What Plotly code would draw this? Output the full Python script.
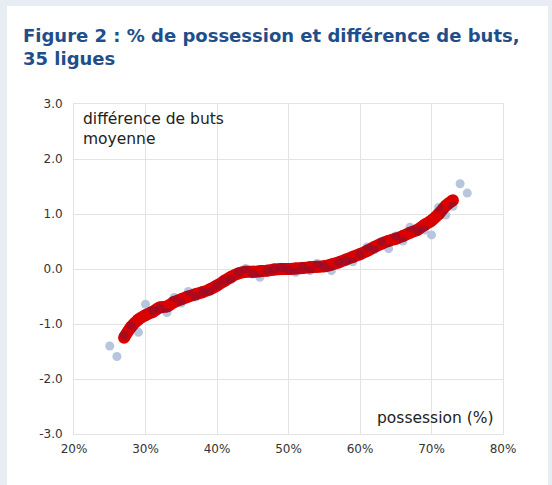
import plotly.graph_objects as go

# Observed points: average goal difference by possession (%)
poss_pts = [25, 26, 27, 28, 29, 30, 31, 32, 33, 34, 35, 36, 37, 38, 39, 40, 41, 42, 43, 44,
            45, 46, 47, 48, 49, 50, 51, 52, 53, 54, 55, 56, 57, 58, 59, 60, 61, 62, 63, 64,
            65, 66, 67, 68, 69, 70, 71, 72, 73, 74, 75]
diff_pts = [-1.40, -1.59, -1.20, -1.03, -1.15, -0.64, -0.76, -0.72, -0.79, -0.52, -0.62, -0.41,
            -0.51, -0.42, -0.41, -0.30, -0.22, -0.19, -0.06, 0.01, -0.09, -0.15, -0.03, 0.00,
            0.03, -0.01, -0.06, 0.04, -0.03, 0.10, 0.05, -0.03, 0.12, 0.15, 0.13, 0.27, 0.40,
            0.35, 0.50, 0.37, 0.60, 0.51, 0.76, 0.70, 0.71, 0.62, 1.12, 0.98, 1.14, 1.55, 1.38]

# Fitted curve
poss_fit = [27, 28, 29, 30, 31, 32, 33, 34, 35, 36, 37, 38, 39, 40, 41, 42, 43, 44, 45, 46,
            47, 48, 49, 50, 51, 52, 53, 54, 55, 56, 57, 58, 59, 60, 61, 62, 63, 64, 65, 66,
            67, 68, 69, 70, 71, 72, 73]
diff_fit = [-1.25, -1.05, -0.92, -0.84, -0.78, -0.70, -0.68, -0.60, -0.55, -0.50, -0.46, -0.42,
            -0.37, -0.30, -0.22, -0.14, -0.08, -0.05, -0.05, -0.04, -0.03, -0.01, 0.00, 0.00,
            0.01, 0.02, 0.03, 0.04, 0.05, 0.08, 0.12, 0.17, 0.22, 0.27, 0.33, 0.40, 0.46, 0.51,
            0.55, 0.60, 0.66, 0.71, 0.80, 0.88, 1.00, 1.15, 1.25]

x_ticks = [20, 30, 40, 50, 60, 70, 80]
x_tick_labels = ["20%", "30%", "40%", "50%", "60%", "70%", "80%"]
y_ticks = [-3, -2, -1, 0, 1, 2, 3]
y_tick_labels = ["-3.0", "-2.0", "-1.0", "0.0", "1.0", "2.0", "3.0"]

title_text = "Figure 2 : % de possession et différence de buts,<br>35 ligues"
y_label = "différence de buts<br>moyenne"
x_label = "possession (%)"

FONT = "DejaVu Sans"
W, H = 552, 485
L, R, T, B = 74, 49, 104, 51
pw, ph = W - L - R, H - T - B

def px(xp):
    return (xp - L) / pw

def py(yp):
    return (H - B - yp) / ph

fig = go.Figure()

# light points (below)
fig.add_trace(go.Scatter(
    x=poss_pts, y=diff_pts, mode="markers",
    marker=dict(size=9, color="rgb(236,250,255)", line=dict(width=0)),
    hoverinfo="skip", showlegend=False))

# fitted curve
fig.add_trace(go.Scatter(
    x=poss_fit, y=diff_fit, mode="lines+markers",
    line=dict(color="#da0000", width=12, shape="spline"),
    marker=dict(size=12, color="#da0000"),
    hoverinfo="skip", showlegend=False))

# darkening overlay of the same points (simulates multiply blend)
fig.add_trace(go.Scatter(
    x=poss_pts, y=diff_pts, mode="markers",
    marker=dict(size=9, color="rgba(24,40,120,0.25)", line=dict(width=0)),
    hoverinfo="skip", showlegend=False))

grid = "#e3e3e3"
fig.update_xaxes(range=[20, 80], tickvals=x_ticks, ticktext=x_tick_labels,
                 showgrid=True, gridcolor=grid, gridwidth=1,
                 showline=True, linecolor=grid, linewidth=1, mirror=True,
                 zeroline=False, ticks="", ticklabelstandoff=4,
                 tickfont=dict(family=FONT, size=12, color="#333"))
fig.update_yaxes(range=[-3, 3], tickvals=y_ticks, ticktext=y_tick_labels,
                 showgrid=True, gridcolor=grid, gridwidth=1,
                 showline=True, linecolor=grid, linewidth=1, mirror=True,
                 zeroline=False, ticks="", ticklabelstandoff=8,
                 tickfont=dict(family=FONT, size=12, color="#333"))

fig.update_layout(
    width=W, height=H,
    margin=dict(l=L, r=R, t=T, b=B, pad=0),
    paper_bgcolor="#e8edf3", plot_bgcolor="white",
    font=dict(family=FONT),
    shapes=[dict(type="rect", xref="paper", yref="paper", layer="below",
                 x0=px(7), x1=px(548), y0=py(H + 10), y1=py(6),
                 fillcolor="white", line=dict(width=0))],
    annotations=[
        dict(text="<b>" + title_text + "</b>", xref="paper", yref="paper",
             x=px(21), y=py(23), xanchor="left", yanchor="top", align="left",
             showarrow=False, font=dict(family=FONT, size=18, color="#1f4e8a")),
        dict(text=y_label, xref="paper", yref="paper",
             x=px(81), y=py(108), xanchor="left", yanchor="top", align="left",
             showarrow=False, font=dict(family=FONT, size=15.5, color="#222")),
        dict(text=x_label, xref="paper", yref="paper",
             x=px(496), y=py(418), xanchor="right", yanchor="middle", align="right",
             showarrow=False, font=dict(family=FONT, size=15.5, color="#222")),
    ],
)

fig.write_html("out.html", config={"displayModeBar": False},
               post_script="document.body.style.margin='0';document.body.style.padding='0';")
